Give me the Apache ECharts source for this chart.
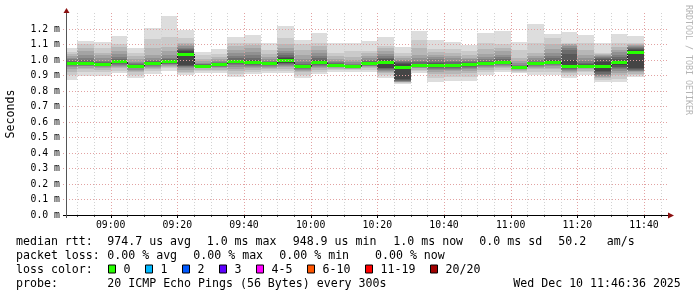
<!DOCTYPE html>
<html><head><meta charset="utf-8">
<script src="https://cdn.jsdelivr.net/npm/echarts@6/dist/echarts.min.js"></script>
<style>html,body{margin:0;padding:0;background:#fff}#c{width:697px;height:297px}</style>
</head><body><div id="c"></div>
<script>
// ---- data ----
const slotEnd = ['08:50','08:55','09:00','09:05','09:10','09:15','09:20','09:25','09:30','09:35','09:40','09:45',
  '09:50','09:55','10:00','10:05','10:10','10:15','10:20','10:25','10:30','10:35','10:40','10:45',
  '10:50','10:55','11:00','11:05','11:10','11:15','11:20','11:25','11:30','11:35','11:40'];
// median RTT per 5-min slot, microseconds
const medianUs = [979,976,968,989,959,974,987,1037,961,968,987,985,974,998,957,983,966,957,976,985,
  950,966,963,963,968,974,983,950,974,985,957,961,959,983,1047];
// 20 sorted ping RTTs per slot, microseconds
const pings = [
 [871,903,925,940,952,960,966,971,975,977,981,985,990,996,1003,1012,1025,1040,1054,1079],
 [899,925,940,950,958,964,968,971,973,975,977,982,990,1000,1015,1035,1060,1080,1101,1123],
 [899,920,935,945,952,958,962,964,966,967,969,972,977,985,995,1010,1030,1045,1080,1116],
 [914,932,945,955,963,970,976,981,985,988,990,994,1000,1008,1020,1040,1060,1085,1105,1155],
 [886,905,920,930,938,945,950,954,957,958,960,963,967,972,980,990,1005,1025,1045,1079],
 [910,928,940,950,957,962,966,969,972,973,975,980,986,993,1002,1015,1035,1080,1135,1208],
 [931,945,955,962,968,973,977,980,983,985,989,993,998,1005,1015,1030,1055,1085,1150,1286],
 [903,915,925,935,945,952,958,963,968,1030,1044,1055,1065,1072,1080,1090,1100,1110,1140,1194],
 [914,928,938,945,950,954,957,959,960,960,962,964,967,971,976,983,992,1005,1030,1054],
 [914,928,938,946,952,957,961,964,966,967,969,972,976,981,988,996,1008,1022,1040,1071],
 [888,910,928,942,955,965,973,979,983,985,989,993,1000,1010,1025,1045,1065,1090,1110,1150],
 [908,925,938,948,956,963,969,975,980,983,987,992,1000,1012,1030,1050,1075,1095,1110,1161],
 [918,932,942,950,956,961,965,968,971,973,975,978,982,988,996,1006,1020,1040,1065,1108],
 [914,930,942,952,960,967,973,978,982,994,1002,1010,1020,1032,1045,1060,1080,1105,1140,1221],
 [886,905,920,930,938,944,949,952,955,956,958,962,968,976,988,1005,1030,1065,1100,1129],
 [908,925,938,948,956,963,969,974,978,981,985,990,998,1010,1025,1045,1065,1090,1110,1176],
 [925,936,944,950,955,958,961,963,965,966,967,969,973,978,985,995,1008,1025,1045,1108],
 [925,933,939,944,948,951,953,955,956,957,958,960,963,968,975,985,1000,1020,1060,1108],
 [925,937,946,953,959,964,968,971,973,975,977,980,985,992,1000,1012,1028,1045,1060,1123],
 [882,900,915,925,932,938,943,947,950,980,990,996,1004,1014,1026,1040,1058,1075,1090,1150],
 [845,850,855,858,861,864,867,870,875,940,960,975,980,986,993,1000,1010,1025,1043,1086],
 [914,928,938,945,951,955,959,962,964,965,967,971,977,985,996,1010,1030,1075,1130,1189],
 [860,885,910,925,935,943,950,955,959,961,965,970,978,990,1005,1020,1035,1050,1070,1129],
 [865,890,912,927,937,944,950,955,959,961,965,969,975,984,995,1010,1025,1045,1070,1118],
 [865,892,915,930,940,948,954,959,963,966,970,973,978,985,993,1003,1015,1035,1060,1097],
 [903,922,936,946,954,960,965,969,971,973,975,979,985,994,1005,1020,1040,1070,1110,1176],
 [925,938,948,956,963,969,974,978,980,982,984,988,995,1005,1018,1035,1055,1080,1105,1189],
 [914,925,932,938,942,945,947,948,949,949,951,953,957,963,970,980,995,1015,1065,1114],
 [903,925,940,950,957,962,966,969,971,973,975,978,983,990,1000,1012,1028,1045,1108,1232],
 [903,925,940,951,959,966,972,977,981,983,987,992,1000,1012,1025,1045,1070,1100,1140,1168],
 [882,900,915,925,932,938,943,948,952,955,959,1000,1040,1065,1080,1090,1100,1105,1110,1183],
 [903,920,932,940,946,951,955,958,960,960,962,966,972,982,995,1012,1035,1065,1110,1161],
 [860,870,882,890,898,905,912,920,930,955,963,985,1005,1015,1022,1028,1033,1038,1043,1108],
 [860,880,900,915,930,940,948,955,965,978,988,995,1005,1020,1035,1050,1065,1085,1110,1168],
 [892,903,912,920,927,932,936,940,945,1040,1054,1062,1068,1075,1082,1090,1098,1105,1110,1155]
];
const xTickLabels = ['09:00','09:20','09:40','10:00','10:20','10:40','11:00','11:20','11:40'];
const yTickValues = [0,0.1,0.2,0.3,0.4,0.5,0.6,0.7,0.8,0.9,1.0,1.1,1.2];
const rangeStart = '08:46:36', rangeEnd = '11:46:36';
const statLine1 = ['median rtt:','974.7 us avg','1.0 ms max','948.9 us min','1.0 ms now','0.0 ms sd','50.2','am/s'];
const statLine2 = ['packet loss:','0.00 % avg','0.00 % max','0.00 % min','0.00 % now'];
const lossLabels = ['0','1','2','3','4-5','6-10','11-19','20/20'];
const lossColors = ['#26ff00','#00b8ff','#0059ff','#5e00ff','#ff00ff','#ff5500','#ff0000','#a10000'];
const probeText = ['probe:','20 ICMP Echo Pings (56 Bytes) every 300s','Wed Dec 10 11:46:36 2025'];

// ---- helpers ----
function toMin(s){const a=s.split(':').map(Number);return a[0]*60+a[1]+(a[2]||0)/60;}
function fmt(v){v=Math.round(v);return String(Math.floor(v/60)).padStart(2,'0')+':'+String(v%60).padStart(2,'0');}
const T0 = toMin(rangeStart), T1 = toMin(rangeEnd), STEP = 5;
const shades=[];
for(let k=1;k<=10;k++){const c=Math.floor(190/10*(10-k))+50;const h=c.toString(16).padStart(2,'0');shades.push('#'+h+h+h);}
const MONO='"DejaVu Sans Mono", monospace';
const medianColor = lossColors[0];

const chart = echarts.init(document.getElementById('c'), null, {renderer:'canvas'});

const slotData = slotEnd.map((s,i)=>[toMin(s), medianUs[i]/1000, i]);

function smokeItem(params, api){
  const t=api.value(0), i=api.value(2), cs=params.coordSys;
  let x0=Math.round(api.coord([t-STEP,0])[0]); const x1=Math.round(api.coord([t,0])[0]);
  x0=Math.max(x0,cs.x);
  const p=pings[i], ch=[];
  for(let k=0;k<10;k++){
    const yLo=Math.round(api.coord([t,p[k]/1000])[1]);
    const yHi=Math.round(api.coord([t,p[19-k]/1000])[1]);
    ch.push({type:'rect',shape:{x:x0,y:yHi,width:x1-x0,height:Math.max(1,yLo-yHi)},style:{fill:shades[k]}});
  }
  return {type:'group',children:ch};
}
function medianItem(params, api){
  const t=api.value(0), m=api.value(1), i=api.value(2), cs=params.coordSys;
  let x0=Math.round(api.coord([t-STEP,0])[0]); const x1=Math.round(api.coord([t,0])[0]);
  x0=Math.max(x0,cs.x);
  const yc=api.coord([t,m])[1];
  const ch=[];
  if(i>0){
    const yp=api.coord([t,medianUs[i-1]/1000])[1];
    ch.push({type:'line',shape:{x1:x0+0.5,y1:Math.min(yp,yc),x2:x0+0.5,y2:Math.max(yp,yc)},style:{stroke:'#202020',lineWidth:1}});
  }
  ch.push({type:'rect',shape:{x:x0,y:Math.round(yc-1.5),width:x1-x0,height:3},style:{fill:medianColor}});
  return {type:'group',children:ch};
}
function frameItem(params, api){
  const cs=params.coordSys, ch=[];
  const top=cs.y, bot=cs.y+cs.height, left=cs.x, right=cs.x+cs.width;
  // vertical grid
  for(let t=Math.ceil(T0/STEP)*STEP; t<=T1; t+=STEP){
    const x=Math.round(api.coord([t,0])[0])+0.5;
    const major = (Math.round(t)%20===0);
    ch.push({type:'line',shape:{x1:x,y1:top-2,x2:x,y2:bot},style:{stroke:major?'#e2a2a2':'#d2d2d2',lineWidth:1,lineDash:[1,2]}});
    if(major) ch.push({type:'line',shape:{x1:x,y1:bot,x2:x,y2:bot+3},style:{stroke:'#000',lineWidth:1}});
    else ch.push({type:'line',shape:{x1:x,y1:bot,x2:x,y2:bot+2},style:{stroke:'#555',lineWidth:1}});
  }
  // horizontal grid
  yTickValues.forEach(v=>{
    if(v===0) return;
    const y=Math.round(api.coord([T0,v])[1])+0.5;
    ch.push({type:'line',shape:{x1:left-3,y1:y,x2:right+2,y2:y},style:{stroke:'#e2a2a2',lineWidth:1,lineDash:[1,2]}});
  });
  // axes
  const yb=Math.round(bot)+0.5, xl=Math.round(left)+0.5;
  ch.push({type:'line',shape:{x1:left-3,y1:yb,x2:right+3,y2:yb},style:{stroke:'#000',lineWidth:1}});
  ch.push({type:'line',shape:{x1:xl,y1:bot+3,x2:xl,y2:top-2},style:{stroke:'#555',lineWidth:1}});
  ch.push({type:'polygon',shape:{points:[[right+2,yb-3],[right+8,yb],[right+2,yb+3]]},style:{fill:'#8b1010'}});
  ch.push({type:'polygon',shape:{points:[[xl-3,top-2],[xl+3,top-2],[xl,top-7]]},style:{fill:'#8b1010'}});
  return {type:'group',children:ch};
}

const graphics=[];
function txt(x,y,s,opt){graphics.push(Object.assign({type:'text',x:x,y:y,style:Object.assign({text:s,font:'11.6px '+MONO,fill:'#000',verticalAlign:'middle',align:'left'},opt||{})}));}
const l1x=[16,107.3,206.7,292.7,393.3,479.3,558.3,606.7];
statLine1.forEach((s,i)=>txt(l1x[i],241.5,s));
const l2x=[16,107.3,193.3,279.3,375];
statLine2.forEach((s,i)=>txt(l2x[i],255.5,s));
txt(16,269.5,'loss color:');
const swx=[108.5,145.5,182.5,219.5,256.5,307.5,365.5,430.5];
lossLabels.forEach((s,i)=>{
  graphics.push({type:'rect',shape:{x:swx[i],y:265,width:7,height:8},style:{fill:lossColors[i],stroke:'#000',lineWidth:1}});
  txt(swx[i]+15,269.5,s);
});
const l4x=[16,107.3,513.3];
probeText.forEach((s,i)=>txt(l4x[i],283.8,s));
graphics.push({type:'text',x:10.5,y:114,rotation:Math.PI/2,style:{text:'Seconds',font:'11.6px '+MONO,fill:'#000',align:'center',verticalAlign:'middle'}});
graphics.push({type:'text',x:688.5,y:60,rotation:-Math.PI/2,style:{text:'RRDTOOL / TOBI OETIKER',font:'8.3px '+MONO,fill:'#b4b4b4',align:'center',verticalAlign:'middle'}});

chart.setOption({
  animation:false,
  backgroundColor:'#ffffff',
  grid:{left:66,top:15,width:600,height:200,containLabel:false},
  xAxis:{type:'value',min:T0,max:T1,
    axisLine:{show:false},axisTick:{show:false},splitLine:{show:false},
    axisLabel:{customValues:xTickLabels.map(toMin),formatter:v=>fmt(v),fontFamily:MONO,fontSize:9.8,color:'#000',margin:5}},
  yAxis:{type:'value',min:0,max:1.29,
    axisLine:{show:false},axisTick:{show:false},splitLine:{show:false},
    axisLabel:{customValues:yTickValues,formatter:v=>v.toFixed(1)+' m',fontFamily:MONO,fontSize:9.8,color:'#000',margin:6}},
  series:[
    {type:'custom',name:'smoke',coordinateSystem:'cartesian2d',clip:true,z:2,data:slotData,encode:{x:0,y:1},renderItem:smokeItem},
    {type:'custom',name:'median',coordinateSystem:'cartesian2d',clip:true,z:3,data:slotData,encode:{x:0,y:1},renderItem:medianItem},
    {type:'custom',name:'frame',coordinateSystem:'cartesian2d',clip:false,z:4,silent:true,data:[[T0,0,0]],encode:{x:0,y:1},renderItem:frameItem}
  ],
  graphic:graphics
});
</script></body></html>
